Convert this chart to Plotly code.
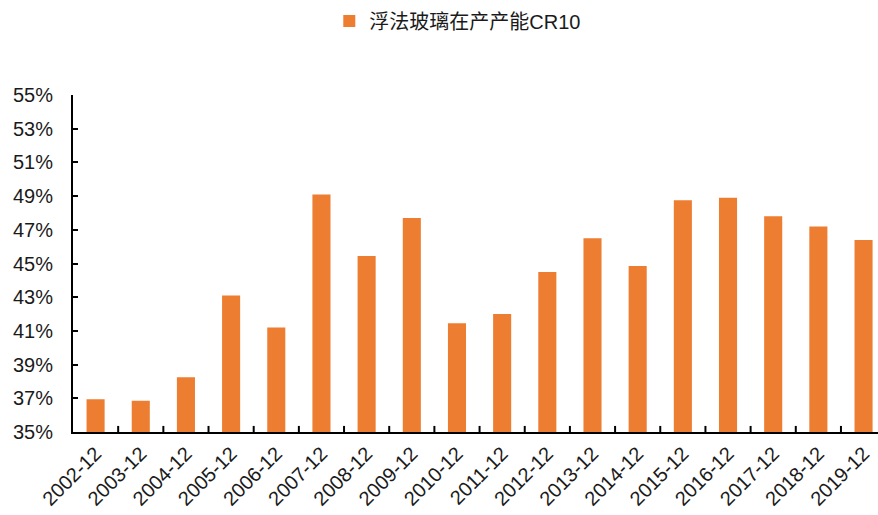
import plotly.graph_objects as go

# Float glass capacity concentration (CR10), year-end values in percent
periods = ["2002-12", "2003-12", "2004-12", "2005-12", "2006-12", "2007-12",
           "2008-12", "2009-12", "2010-12", "2011-12", "2012-12", "2013-12",
           "2014-12", "2015-12", "2016-12", "2017-12", "2018-12", "2019-12"]
cr10 = [36.95, 36.85, 38.25, 43.1, 41.2, 49.1, 45.45, 47.7, 41.45,
        42.0, 44.5, 46.5, 44.85, 48.75, 48.9, 47.8, 47.2, 46.4]
series_name = "浮法玻璃在产产能CR10"
y_ticks = [35, 37, 39, 41, 43, 45, 47, 49, 51, 53, 55]

FONT = "Liberation Sans, Arial, Noto Sans CJK SC, sans-serif"

fig = go.Figure()
fig.add_trace(go.Bar(
    x=list(range(len(periods))),
    y=cr10,
    name=series_name,
    marker=dict(color="#ED7D31", line=dict(width=0)),
    width=0.4,
    showlegend=True,
))

fig.update_layout(
    width=878, height=515,
    margin=dict(l=73, r=0, t=95, b=83),
    paper_bgcolor="white", plot_bgcolor="white",
    font=dict(family=FONT, color="#1a1a1a"),
    bargap=0.6,
    legend=dict(
        orientation="h", x=0.478, xanchor="center",
        y=1 - 21 / 515, yanchor="middle", yref="container",
        font=dict(size=20, family=FONT, color="#1a1a1a"),
        itemwidth=30,
    ),
    xaxis=dict(
        tickmode="array",
        tickvals=list(range(len(periods))),
        ticktext=periods,
        tickangle=-45,
        range=[-0.5, 17.32],
        showgrid=False,
        showline=True, linecolor="black", linewidth=2,
        ticks="", tickfont=dict(size=20, family=FONT, color="#1a1a1a"),
        zeroline=False,
    ),
    yaxis=dict(
        range=[35, 55],
        tickvals=y_ticks,
        ticktext=[f"{v}%" for v in y_ticks],
        showgrid=False,
        showline=True, linecolor="black", linewidth=2,
        ticks="inside", ticklen=5, tickwidth=2, tickcolor="black",
        tickfont=dict(size=20, family=FONT, color="#1a1a1a"),
        ticklabelstandoff=14,
        zeroline=False,
    ),
)

# Category boundary tick marks standing up from the x axis
for i in range(len(periods)):
    fig.add_shape(type="line", xref="x", yref="paper",
                  x0=i + 0.5, x1=i + 0.5, y0=0, y1=0.018,
                  line=dict(color="black", width=2))

fig.write_html("out.html")
